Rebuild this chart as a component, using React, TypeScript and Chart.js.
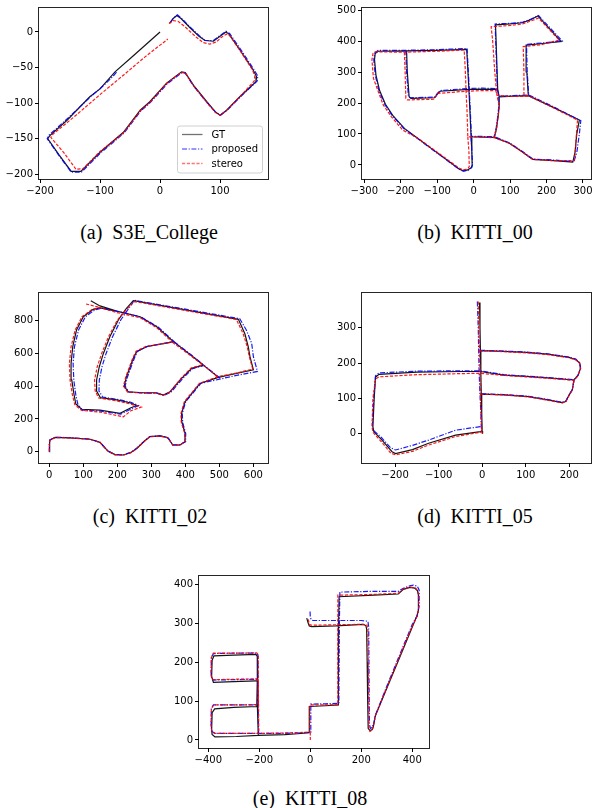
import React, { useEffect, useRef } from 'react';
import { Chart, registerables } from 'chart.js';

Chart.register(...registerables);

type P = [number, number] | null;

// ---------- (a) S3E_College ----------
const collegeGT: P[] = [
  [16, 12], [22, 19], [28, 23], [35, 19], [50, 6], [65, -6], [75, -12], [89, -13], [100, -6], [110, 0], [115, -3],
  [133, -25], [155, -53], [161, -63], [160, -70], [133, -91], [111, -110], [100, -117], [92, -112], [78, -98],
  [56, -75], [42, -57], [36, -56], [28, -61], [11, -72], [-17, -98], [-33, -110], [-61, -141], [-100, -169],
  [-132, -196], [-148, -196], [-168, -173], [-187, -150], [-184, -146], [-155, -124], [-117, -91], [-100, -80],
  [-75, -56], [-44, -33], [0, 0],
];
const collegeProposed: P[] = [
  [17, 13], [22, 19], [29, 24], [36, 19], [50, 7], [65, -5], [75, -12], [89, -12], [100, -5], [110, 1], [116, -2],
  [134, -24], [156, -52], [163, -62], [162, -69], [134, -91], [112, -110], [101, -117], [93, -113], [78, -99],
  [56, -76], [42, -58], [37, -57], [29, -62], [12, -73], [-16, -99], [-32, -111], [-60, -142], [-99, -170],
  [-131, -197], [-148, -197], [-168, -174], [-188, -150], [-185, -145], [-156, -123], [-117, -92], [-95, -76],
  [-78, -62], [-72, -56],
];
const collegeStereo: P[] = [
  [15, 12], [22, 16], [30, 15], [42, 7], [60, -7], [72, -15], [83, -17], [94, -14], [103, -7], [111, -3], [117, -6],
  [134, -27], [154, -53], [158, -62], [157, -69], [132, -92], [110, -111], [100, -117], [92, -113], [78, -99],
  [56, -76], [42, -57], [36, -57], [27, -62], [10, -73], [-17, -99], [-33, -111], [-61, -142], [-100, -168],
  [-128, -192], [-140, -193], [-160, -170], [-182, -148], [-179, -144], [-140, -117], [-100, -88], [-60, -60],
  [-25, -35], [13, -10],
];

// ---------- (b) KITTI_00 ----------
const k00GT: P[] = [
  [-7, 91], [-5, 45], [-4, 0], [-6, -8], [-16, -16], [-28, -19], [-40, -13], [-75, 18], [-110, 48], [-150, 83],
  [-190, 118], [-222, 160], [-242, 196], [-258, 240], [-268, 290], [-272, 340], [-270, 360], [-262, 367],
  [-184, 368], [-100, 370], [-19, 373], [-16, 310], [-13, 244], [-10, 170], [-7, 91], [25, 90], [57, 89],
  [98, 70], [130, 45], [162, 18], [220, 14], [272, 9], [278, 40], [283, 100], [290, 145], [220, 185], [150, 224],
  [146, 300], [144, 387], [190, 392], [240, 398], [208, 440], [176, 481], [155, 468], [134, 459], [100, 455],
  [60, 452], [63, 350], [66, 244], [70, 220], [70, 190], [68, 165], [63, 120], [57, 89],
  null,
  [-184, 368], [-182, 300], [-177, 220], [-172, 215], [-107, 217], [-100, 228], [-92, 238], [-13, 244], [25, 245],
  [66, 244], [70, 220], [110, 222], [150, 224],
];
const k00Proposed: P[] = [
  [-7, 92], [-5, 46], [-3, 1], [-5, -8], [-15, -17], [-28, -20], [-40, -14], [-75, 17], [-110, 47], [-150, 82],
  [-191, 117], [-224, 160], [-244, 196], [-260, 240], [-270, 290], [-274, 340], [-271, 362], [-262, 370],
  [-184, 370], [-100, 372], [-18, 376], [-15, 310], [-12, 244], [-9, 170], [-6, 92], [25, 92], [58, 91],
  [99, 71], [131, 46], [163, 19], [220, 16], [275, 11], [283, 40], [290, 100], [294, 143], [222, 186], [151, 226],
  [147, 300], [145, 389], [190, 394], [243, 400], [210, 442], [178, 482], [156, 470], [135, 461], [100, 457],
  [59, 455], [62, 350], [65, 246], [69, 222], [69, 190], [67, 165], [62, 120], [56, 91],
  null,
  [-186, 370], [-184, 300], [-179, 222], [-174, 217], [-107, 219], [-100, 230], [-92, 240], [-13, 247], [25, 248],
  [65, 246], [69, 222], [110, 224], [151, 226],
];
const k00Stereo: P[] = [
  [-16, 91], [-13, 45], [-12, -5], [-15, -10], [-22, -14], [-30, -15], [-40, -10], [-75, 20], [-110, 50],
  [-150, 84], [-195, 113], [-226, 156], [-248, 194], [-262, 238], [-275, 280], [-279, 340], [-276, 360],
  [-270, 365], [-190, 364], [-100, 367], [-26, 371], [-23, 310], [-21, 242], [-18, 170], [-16, 91], [25, 90],
  [57, 88], [98, 70], [130, 45], [162, 18], [220, 14], [276, 14], [279, 40], [282, 100], [285, 145], [220, 184],
  [152, 222], [138, 226], [138, 300], [136, 382], [185, 388], [235, 403], [205, 440], [178, 474], [155, 464],
  [134, 455], [100, 450], [48, 446], [52, 403], [58, 300], [61, 260], [64, 225], [70, 190], [68, 165], [63, 120],
  [57, 88],
  null,
  [-190, 364], [-188, 300], [-186, 215], [-182, 210], [-110, 212], [-103, 222], [-99, 231], [-21, 238], [25, 240],
  [61, 240], [64, 225], [100, 221], [152, 222],
];

// ---------- (c) KITTI_02 ----------
const k02GT: P[] = [
  [0, 0], [0, 50], [2, 71], [17, 87], [60, 85], [120, 76], [149, 57], [165, 20], [173, 3], [193, -18], [218, -20],
  [240, -5], [257, 20], [280, 65], [296, 92], [325, 96], [345, 88], [350, 81], [363, 41], [384, 41], [399, 61],
  [399, 112], [390, 180], [389, 234], [399, 305], [443, 417], [497, 454], [550, 478], [600, 500], [590, 580],
  [585, 640], [575, 720], [556, 808], [400, 866], [260, 918], [247, 922], [225, 870], [203, 804], [178, 702],
  [159, 600], [147, 519], [139, 438], [139, 370], [150, 330], [198, 316], [237, 299], [257, 282], [240, 268],
  [208, 234], [149, 254], [95, 259], [78, 291], [73, 346], [66, 438], [64, 539], [69, 641], [80, 743], [100, 824],
  [129, 869], [149, 878], [198, 858], [267, 824], [316, 763], [365, 672], [286, 641], [257, 611], [247, 570],
  [227, 458], [220, 401], [232, 366], [276, 360], [316, 360], [335, 346], [355, 366], [389, 448], [419, 509],
  [453, 529], [497, 454],
  null,
  [122, 922], [149, 890], [198, 858],
  null,
  [365, 672], [410, 600], [453, 529],
];
const k02Proposed: P[] = [
  [0, 0], [0, 50], [2, 72], [17, 88], [60, 86], [120, 77], [149, 58], [165, 21], [173, 4], [193, -17], [218, -19],
  [240, -4], [257, 21], [280, 66], [296, 93], [325, 97], [345, 89], [350, 82], [363, 42], [384, 42], [401, 62],
  [401, 112], [392, 180], [391, 234], [401, 305], [446, 418], [505, 445], [560, 470], [612, 490], [600, 580],
  [595, 662], [580, 740], [560, 812], [400, 870], [262, 920], [250, 924], [232, 870], [210, 804], [186, 702],
  [167, 600], [155, 519], [147, 438], [146, 370], [157, 334], [200, 320], [240, 302], [262, 282], [243, 263],
  [210, 229], [151, 248], [98, 254], [84, 289], [78, 346], [72, 438], [70, 539], [74, 641], [86, 743], [106, 824],
  [134, 866], [155, 876], [203, 856], [270, 822], [320, 761], [367, 672], [288, 643], [259, 613], [250, 570],
  [230, 458], [223, 401], [234, 364], [276, 358], [316, 357], [337, 343], [358, 364], [392, 446], [421, 507],
  [455, 527], [505, 445],
  null,
  [367, 672], [412, 600], [455, 527],
];
const k02Stereo: P[] = [
  [0, 0], [0, 50], [2, 70], [17, 86], [60, 84], [120, 75], [149, 56], [165, 19], [173, 2], [193, -19], [218, -21],
  [240, -6], [257, 19], [280, 64], [296, 91], [325, 95], [345, 87], [350, 80], [363, 40], [384, 40], [398, 60],
  [398, 112], [388, 180], [387, 234], [397, 305], [441, 417], [495, 458], [550, 480], [598, 505], [588, 580],
  [582, 640], [570, 720], [550, 808], [400, 862], [265, 912], [250, 916], [226, 866], [200, 804], [174, 702],
  [154, 600], [141, 519], [133, 438], [135, 370], [145, 328], [195, 312], [237, 292], [270, 272], [240, 250],
  [218, 213], [149, 242], [95, 252], [75, 287], [68, 346], [61, 438], [59, 539], [64, 641], [76, 743], [96, 824],
  [126, 869], [149, 880], [198, 850], [267, 818], [316, 757], [362, 668], [284, 643], [255, 613], [245, 570],
  [225, 458], [218, 401], [230, 364], [276, 358], [316, 358], [335, 344], [355, 364], [387, 448], [417, 511],
  [451, 531], [495, 458],
  null,
  [108, 902], [149, 880],
  null,
  [362, 668], [408, 598], [451, 531],
];

// ---------- (d) KITTI_05 ----------
const k05GT: P[] = [
  [-6, 371], [-5, 300], [-4, 235], [-3, 169], [-2, 112], [-1, 60], [0, 8], [1, 0],
  null,
  [-4, 235], [50, 233], [100, 230], [150, 225], [199, 216], [215, 210], [224, 200], [226, 185], [220, 165],
  [211, 152], [150, 158], [100, 162], [50, 166], [-4, 176], [-50, 176], [-150, 174], [-237, 168], [-245, 160],
  [-248, 100], [-251, 20], [-249, 6], [-230, -18], [-207, -51], [-199, -56], [-160, -45], [-123, -27], [-61, -4],
  [-4, 6], [0, 8],
  null,
  [0, 112], [50, 110], [107, 105], [150, 96], [184, 88], [192, 91], [200, 110], [207, 124], [211, 152],
];
const k05Proposed: P[] = [
  [-11, 374], [-9, 300], [-8, 235], [-7, 175], [-5, 112], [-3, 60], [-2, 20], [-1, 8],
  null,
  [-5, 236], [50, 234], [100, 231], [150, 226], [199, 217], [215, 211], [224, 201], [226, 186], [220, 165],
  [211, 153], [150, 159], [100, 163], [50, 167], [-5, 178], [-50, 178], [-150, 177], [-237, 172], [-245, 164],
  [-249, 100], [-252, 25], [-250, 10], [-232, -10], [-210, -40], [-199, -46], [-160, -33], [-123, -18],
  [-61, 10], [-4, 20], [-2, 20],
  null,
  [-2, 113], [50, 111], [107, 106], [150, 97], [184, 89], [192, 92], [200, 111], [207, 125], [211, 153],
];
const k05Stereo: P[] = [
  [-9, 374], [-8, 300], [-6, 235], [-5, 170], [-4, 112], [-3, 60], [-1, 8], [0, 0],
  null,
  [-6, 235], [50, 232], [100, 229], [150, 224], [199, 215], [215, 209], [224, 199], [226, 184], [220, 164],
  [211, 151], [150, 157], [100, 161], [50, 165], [-5, 171], [-50, 170], [-150, 167], [-237, 161], [-245, 155],
  [-251, 100], [-253, 20], [-251, 4], [-232, -22], [-210, -55], [-199, -60], [-160, -50], [-123, -32],
  [-61, -8], [-4, 4], [-1, 8],
  null,
  [-4, 112], [50, 110], [107, 104], [150, 95], [184, 87], [192, 90], [200, 109], [207, 123], [211, 151],
];

// ---------- (e) KITTI_08 ----------
const k08GT: P[] = [
  [-14, 313], [-8, 300], [-4, 293], [5, 291], [100, 293], [208, 297], [218, 294], [221, 285], [223, 200],
  [225, 100], [227, 30], [234, 24], [243, 27], [247, 34], [254, 60], [300, 133], [350, 211], [400, 290],
  [417, 317], [424, 333], [424, 372], [420, 384], [410, 390], [391, 392], [365, 387], [345, 375], [250, 372],
  [113, 368], [111, 300], [110, 200], [110, 90], [60, 88], [-4, 86], [-4, 50], [-4, 19], [-50, 16], [-100, 14],
  [-204, 12], [-290, 9], [-374, 8], [-385, 14], [-387, 26], [-385, 70], [-375, 80], [-300, 84], [-210, 86],
  [-208, 150], [-213, 152], [-300, 150], [-380, 148], [-387, 163], [-385, 205], [-378, 216], [-300, 218],
  [-213, 220], [-208, 215], [-208, 150], [-207, 86], [-204, 12],
];
const k08Proposed: P[] = [
  [-1, 330], [0, 315], [4, 309], [10, 307], [100, 307], [200, 307], [226, 305], [229, 290], [230, 200],
  [231, 100], [232, 40], [236, 30], [242, 32], [250, 45], [256, 65], [300, 138], [350, 218], [400, 297],
  [420, 320], [427, 345], [427, 385], [420, 395], [404, 398], [385, 395], [365, 390], [345, 382], [250, 382],
  [116, 380], [114, 300], [113, 200], [112, 94], [60, 93], [2, 92], [2, 50], [2, 20], [-50, 18], [-100, 17],
  [-204, 17], [-290, 17], [-374, 17], [-386, 22], [-389, 35], [-388, 80], [-380, 90], [-300, 90], [-207, 90],
  [-205, 150], [-210, 156], [-300, 155], [-382, 154], [-389, 165], [-388, 212], [-380, 222], [-300, 223],
  [-210, 223], [-205, 218], [-205, 150], [-204, 90], [-203, 17],
];
const k08Stereo: P[] = [
  [-8, 310], [-4, 298], [2, 295], [10, 295], [100, 296], [200, 297], [222, 296], [226, 285], [227, 200],
  [229, 100], [230, 30], [234, 22], [242, 25], [247, 34], [255, 62], [300, 135], [350, 214], [400, 293],
  [419, 318], [425, 340], [424, 378], [414, 390], [391, 393], [365, 388], [345, 377], [250, 374], [108, 372],
  [108, 300], [108, 200], [108, 90], [60, 90], [-2, 90], [-2, 50], [-2, 20], [-50, 19], [-100, 18], [-204, 17],
  [-290, 17], [-374, 17], [-386, 22], [-389, 35], [-388, 80], [-380, 90], [-300, 90], [-206, 91], [-204, 150],
  [-210, 157], [-300, 156], [-382, 155], [-389, 165], [-388, 212], [-380, 223], [-300, 223], [-210, 224],
  [-204, 219], [-204, 150], [-203, 90], [-202, 17],
  null,
  [0, 20], [0, 0],
];

// ---------- ticks ----------
const collegeXTicks = [-200, -100, 0, 100];
const collegeYTicks = [-200, -150, -100, -50, 0];
const k00XTicks = [-300, -200, -100, 0, 100, 200, 300];
const k00YTicks = [0, 100, 200, 300, 400, 500];
const k02XTicks = [0, 100, 200, 300, 400, 500, 600];
const k02YTicks = [0, 200, 400, 600, 800];
const k05XTicks = [-200, -100, 0, 100, 200];
const k05YTicks = [0, 100, 200, 300];
const k08XTicks = [-400, -200, 0, 200, 400];
const k08YTicks = [0, 100, 200, 300, 400];

const seriesNames = ['GT', 'proposed', 'stereo'];
const captions = ['(a)\u2002S3E_College', '(b)\u2002KITTI_00', '(c)\u2002KITTI_02', '(d)\u2002KITTI_05', '(e)\u2002KITTI_08'];

// ---------- styling ----------
const TICK_FONT = "'DejaVu Sans', sans-serif";
const Y_W = 38;
const X_H = 22;
const PAD_T = 10;
const PAD_R = 22;

const STYLES = [
  { color: 'rgba(0,0,0,0.92)', dash: [] as number[] },
  { color: 'rgba(0,0,255,0.9)', dash: [5, 1.6, 1.2, 1.6] },
  { color: 'rgba(255,0,0,0.9)', dash: [3.2, 1.6] },
];

interface PlotCfg {
  box: { l: number; t: number; r: number; b: number };
  xr: [number, number];
  yr: [number, number];
  xt: number[];
  yt: number[];
  series: P[][];
  legend?: boolean;
  caption: string;
  capX: number;
  capBase: number;
}

const plots: PlotCfg[] = [
  { box: { l: 39, t: 8, r: 268, b: 179 }, xr: [-201.7, 180], yr: [-206.6, 33.7], xt: collegeXTicks, yt: collegeYTicks,
    series: [collegeGT, collegeProposed, collegeStereo], legend: true, caption: captions[0], capX: 149, capBase: 239 },
  { box: { l: 362, t: 8, r: 591, b: 179 }, xr: [-306.3, 322], yr: [-45.2, 506.5], xt: k00XTicks, yt: k00YTicks,
    series: [k00GT, k00Proposed, k00Stereo], caption: captions[1], capX: 475, capBase: 239 },
  { box: { l: 39, t: 293, r: 268, b: 463 }, xr: [-30.3, 643], yr: [-69, 969], xt: k02XTicks, yt: k02YTicks,
    series: [k02GT, k02Proposed, k02Stereo], caption: captions[2], capX: 150, capBase: 523 },
  { box: { l: 362, t: 293, r: 591, b: 463 }, xr: [-276, 250], yr: [-82.9, 398.2], xt: k05XTicks, yt: k05YTicks,
    series: [k05GT, k05Proposed, k05Stereo], caption: captions[3], capX: 475, capBase: 523 },
  { box: { l: 199, t: 576, r: 429, b: 748 }, xr: [-436.5, 465.5], yr: [-20.6, 421.3], xt: k08XTicks, yt: k08YTicks,
    series: [k08GT, k08Proposed, k08Stereo], caption: captions[4], capX: 310, capBase: 805 },
];

const fmt = (v: number | string) => {
  const n = Number(v);
  return n < 0 ? '\u2212' + Math.abs(n) : String(n);
};

const toData = (arr: P[]) => arr.map((p) => (p ? { x: p[0], y: p[1] } : { x: null, y: null }));

const framePlugin = {
  id: 'frameBox',
  afterDatasetsDraw(chart: any) {
    const { ctx, chartArea } = chart;
    const { left, top, right, bottom } = chartArea;
    ctx.save();
    ctx.strokeStyle = 'rgba(0,0,0,0.85)';
    ctx.lineWidth = 1;
    ctx.setLineDash([]);
    ctx.strokeRect(Math.round(left) - 0.5, Math.round(top) - 0.5, Math.round(right - left) + 1, Math.round(bottom - top) + 1);
    ctx.restore();
  },
};

const legendPlugin = {
  id: 'insetLegend',
  afterDraw(chart: any, _args: any, opts: any) {
    if (!opts || !opts.show) return;
    const { ctx, chartArea } = chart;
    const w = 85;
    const h = 47;
    const x0 = chartArea.right - 5.5 - w;
    const y0 = chartArea.bottom - 6 - h;
    ctx.save();
    ctx.beginPath();
    const r = 2.5;
    ctx.moveTo(x0 + r, y0);
    ctx.lineTo(x0 + w - r, y0);
    ctx.quadraticCurveTo(x0 + w, y0, x0 + w, y0 + r);
    ctx.lineTo(x0 + w, y0 + h - r);
    ctx.quadraticCurveTo(x0 + w, y0 + h, x0 + w - r, y0 + h);
    ctx.lineTo(x0 + r, y0 + h);
    ctx.quadraticCurveTo(x0, y0 + h, x0, y0 + h - r);
    ctx.lineTo(x0, y0 + r);
    ctx.quadraticCurveTo(x0, y0, x0 + r, y0);
    ctx.closePath();
    ctx.fillStyle = 'rgba(255,255,255,0.85)';
    ctx.fill();
    ctx.strokeStyle = '#d0d0d0';
    ctx.lineWidth = 1;
    ctx.stroke();
    const rows = [8.5, 23, 37.5];
    seriesNames.forEach((name, i) => {
      const yy = y0 + rows[i];
      ctx.beginPath();
      ctx.setLineDash(STYLES[i].dash);
      ctx.strokeStyle = STYLES[i].color;
      ctx.globalAlpha = 0.6;
      ctx.lineWidth = 1.3;
      ctx.moveTo(x0 + 4.5, yy);
      ctx.lineTo(x0 + 25, yy);
      ctx.stroke();
      ctx.globalAlpha = 1;
      ctx.setLineDash([]);
      ctx.fillStyle = '#000';
      ctx.font = `10px ${TICK_FONT}`;
      ctx.textBaseline = 'middle';
      ctx.textAlign = 'left';
      ctx.fillText(name, x0 + 34, yy + 0.5);
    });
    ctx.restore();
  },
};

function PlotCanvas({ cfg }: { cfg: PlotCfg }) {
  const ref = useRef<HTMLCanvasElement | null>(null);
  const bw = cfg.box.r - cfg.box.l;
  const bh = cfg.box.b - cfg.box.t;
  const cw = Y_W + bw + PAD_R;
  const ch = PAD_T + bh + X_H;

  useEffect(() => {
    if (!ref.current) return;
    const axisCommon = (ticksVals: number[]) => ({
      type: 'linear' as const,
      afterBuildTicks: (scale: any) => {
        scale.ticks = ticksVals.map((v) => ({ value: v }));
      },
      grid: {
        display: true,
        drawOnChartArea: false,
        drawTicks: true,
        tickLength: 4,
        color: '#000',
        lineWidth: 1,
      },
      border: { display: false },
      ticks: {
        font: { family: TICK_FONT, size: 10 },
        color: '#000',
        autoSkip: false,
        maxRotation: 0,
        minRotation: 0,
        callback: (v: any) => fmt(v),
      },
    });
    const xAxis: any = axisCommon(cfg.xt);
    xAxis.min = cfg.xr[0];
    xAxis.max = cfg.xr[1];
    xAxis.ticks.padding = 2;
    xAxis.afterFit = (s: any) => {
      s.height = X_H;
    };
    const yAxis: any = axisCommon(cfg.yt);
    yAxis.min = cfg.yr[0];
    yAxis.max = cfg.yr[1];
    yAxis.ticks.padding = 2;
    yAxis.afterFit = (s: any) => {
      s.width = Y_W;
    };

    const chart = new Chart(ref.current, {
      type: 'scatter',
      data: {
        datasets: cfg.series.map((s, i) => ({
          label: seriesNames[i],
          data: toData(s) as any,
          showLine: true,
          borderColor: STYLES[i].color,
          backgroundColor: STYLES[i].color,
          borderWidth: 1.2,
          borderDash: STYLES[i].dash,
          pointRadius: 0,
          pointHoverRadius: 0,
          tension: 0,
          spanGaps: false,
          order: 3 - i,
        })),
      },
      options: {
        animation: false,
        responsive: false,
        devicePixelRatio: 1,
        events: [],
        layout: { padding: { top: PAD_T, right: PAD_R, left: 0, bottom: 0 } },
        plugins: {
          legend: { display: false },
          tooltip: { enabled: false },
          insetLegend: { show: !!cfg.legend },
        } as any,
        scales: { x: xAxis, y: yAxis },
      },
      plugins: [framePlugin, legendPlugin],
    });
    return () => chart.destroy();
  }, [cfg]);

  return (
    <canvas
      ref={ref}
      width={cw}
      height={ch}
      style={{ position: 'absolute', left: cfg.box.l - Y_W, top: cfg.box.t - PAD_T, width: cw, height: ch }}
    />
  );
}

export default function App() {
  return (
    <div style={{ position: 'absolute', left: 0, top: 0, width: 592, height: 808, overflow: 'hidden', background: '#fff' }}>
      {plots.map((p, i) => (
        <React.Fragment key={i}>
          <PlotCanvas cfg={p} />
          <div
            style={{
              position: 'absolute',
              left: p.capX - 150,
              width: 300,
              top: p.capBase - 16.75,
              textAlign: 'center',
              fontFamily: "'Liberation Serif', 'Times New Roman', serif",
              fontSize: 20,
              lineHeight: '20px',
              color: '#000',
              whiteSpace: 'pre',
            }}
          >
            {p.caption}
          </div>
        </React.Fragment>
      ))}
    </div>
  );
}
